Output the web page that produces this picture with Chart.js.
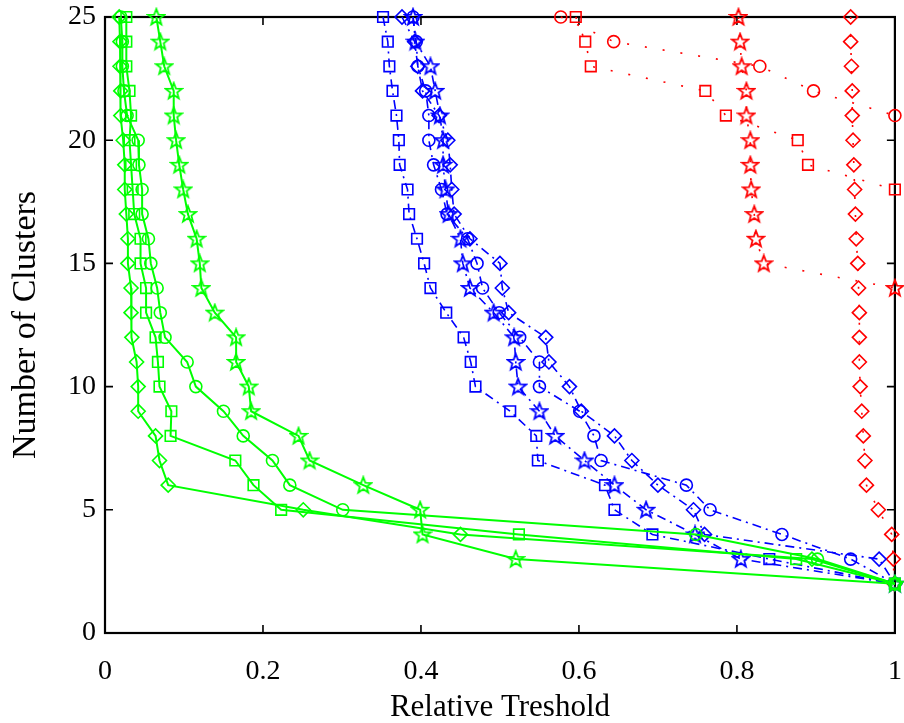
<!DOCTYPE html>
<html>
<head>
<meta charset="utf-8">
<script src="https://cdn.jsdelivr.net/npm/chart.js@4.4.1/dist/chart.umd.min.js"></script>
<style>
  html, body { margin: 0; padding: 0; background: #fff; }
  #wrap { width: 904px; height: 723px; }
</style>
</head>
<body>
<div id="wrap"><canvas id="clusterChart" width="904" height="723"></canvas></div>
<script>
// number of clusters, top to bottom (25 .. 2)
const clusterLevels = [25, 24, 23, 22, 21, 20, 19, 18, 17, 16, 15, 14, 13, 12, 11, 10, 9, 8, 7, 6, 5, 4, 3, 2];

// relative threshold, one value per cluster level
const greenDiamond = [0.018, 0.019, 0.019, 0.020, 0.020, 0.023, 0.025, 0.025, 0.027, 0.029, 0.029, 0.033, 0.033, 0.034, 0.040, 0.042, 0.042, 0.064, 0.069, 0.080, 0.251, 0.450, 0.895, 1.0];
const greenSquare  = [0.027, 0.027, 0.027, 0.031, 0.033, 0.031, 0.033, 0.035, 0.037, 0.045, 0.045, 0.052, 0.052, 0.064, 0.067, 0.069, 0.084, 0.083, 0.165, 0.188, 0.223, 0.524, 0.875, 1.0];
const greenCircle  = [0.020, 0.022, 0.022, 0.024, 0.028, 0.042, 0.043, 0.047, 0.047, 0.055, 0.058, 0.066, 0.070, 0.076, 0.104, 0.115, 0.150, 0.175, 0.212, 0.234, 0.301, 0.748, 0.902, 1.0];
const greenStar    = [0.065, 0.070, 0.075, 0.087, 0.087, 0.090, 0.094, 0.099, 0.105, 0.116, 0.120, 0.122, 0.139, 0.166, 0.166, 0.182, 0.185, 0.245, 0.259, 0.327, 0.399, 0.402, 0.520, 1.0];

const blueSquare   = [0.352, 0.358, 0.360, 0.364, 0.369, 0.372, 0.373, 0.383, 0.385, 0.395, 0.404, 0.412, 0.432, 0.454, 0.463, 0.469, 0.513, 0.546, 0.548, 0.633, 0.645, 0.693, 0.841, 1.0];
const blueStar     = [0.390, 0.393, 0.412, 0.418, 0.424, 0.428, 0.428, 0.431, 0.435, 0.450, 0.453, 0.462, 0.492, 0.518, 0.520, 0.523, 0.550, 0.570, 0.607, 0.645, 0.685, 0.747, 0.805, 1.0];
const blueCircle   = [0.390, 0.394, 0.396, 0.406, 0.410, 0.410, 0.416, 0.426, 0.433, 0.459, 0.471, 0.478, 0.499, 0.525, 0.550, 0.550, 0.601, 0.619, 0.628, 0.736, 0.766, 0.857, 0.944, 1.0];
const blueDiamond  = [0.376, 0.392, 0.396, 0.402, 0.423, 0.434, 0.437, 0.439, 0.442, 0.462, 0.500, 0.503, 0.511, 0.558, 0.562, 0.588, 0.603, 0.645, 0.667, 0.700, 0.745, 0.759, 0.980, 1.0];

// red curves stop early (25 .. 21, 25 .. 18, 25 .. 14, 25 .. 3)
const redCircle    = [0.577, 0.644, 0.829, 0.897, 1.0];
const redSquare    = [0.596, 0.608, 0.615, 0.760, 0.786, 0.877, 0.890, 1.0];
const redStar      = [0.802, 0.804, 0.806, 0.812, 0.812, 0.817, 0.817, 0.818, 0.822, 0.824, 0.834, 1.0];
const redDiamond   = [0.944, 0.944, 0.945, 0.946, 0.946, 0.947, 0.948, 0.949, 0.950, 0.951, 0.953, 0.954, 0.955, 0.955, 0.955, 0.956, 0.958, 0.960, 0.962, 0.964, 0.979, 0.996, 0.998, 0.999];

const xTicks = [0, 0.2, 0.4, 0.6, 0.8, 1];
const yTicks = [0, 5, 10, 15, 20, 25];

const GREEN = "#00ff00";
const BLUE = "#0000ff";
const RED = "#ff0000";

// matlab-like pentagram outline as an image point style
function makeStar(color) {
    const c = document.createElement("canvas");
    c.width = 20;
    c.height = 20;
    const g = c.getContext("2d");
    g.strokeStyle = color;
    g.lineWidth = 1.8;
    g.beginPath();
    for (let i = 0; i < 10; i++) {
        const r = i % 2 === 0 ? 8.5 : 3.6;
        const a = -Math.PI / 2 + i * Math.PI / 5;
        const px = 10 + r * Math.cos(a);
        const py = 10.5 + r * Math.sin(a);
        if (i === 0) g.moveTo(px, py); else g.lineTo(px, py);
    }
    g.closePath();
    g.stroke();
    return c;
}

function toPoints(values) {
    return values.map((v, i) => ({ x: v, y: clusterLevels[i] }));
}

function series(values, color, marker, dash, width) {
    let style = marker;
    let radius = 6;
    if (marker === "star") style = makeStar(color);
    if (marker === "rect") radius = 7.5;
    if (marker === "rectRot") radius = 7;
    return {
        data: toPoints(values),
        borderColor: color,
        backgroundColor: "rgba(0,0,0,0)",
        pointBorderColor: color,
        pointBackgroundColor: "rgba(0,0,0,0)",
        pointStyle: style,
        pointRadius: radius,
        pointBorderWidth: 1.6,
        borderWidth: width,
        borderDash: dash,
        tension: 0,
        fill: false,
        clip: false
    };
}

const dashDot = [9, 5, 2, 5];
const dotted = [2, 16];

const datasets = [
    series(greenDiamond, GREEN, "rectRot", [], 2),
    series(greenSquare, GREEN, "rect", [], 2),
    series(greenCircle, GREEN, "circle", [], 2),
    series(greenStar, GREEN, "star", [], 2),
    series(blueSquare, BLUE, "rect", dashDot, 1.6),
    series(blueStar, BLUE, "star", dashDot, 1.6),
    series(blueCircle, BLUE, "circle", dashDot, 1.6),
    series(blueDiamond, BLUE, "rectRot", dashDot, 1.6),
    series(redCircle, RED, "circle", dotted, 1.6),
    series(redSquare, RED, "rect", dotted, 1.6),
    series(redStar, RED, "star", dotted, 1.6),
    series(redDiamond, RED, "rectRot", dotted, 1.6)
];

// box around the axes with inward ticks on all four sides
const framePlugin = {
    id: "frame",
    beforeDatasetsDraw(chart) {
        const { ctx, chartArea: a, scales } = chart;
        ctx.save();
        ctx.strokeStyle = "#000";
        ctx.lineWidth = 2.2;
        ctx.strokeRect(a.left, a.top, a.right - a.left, a.bottom - a.top);
        ctx.lineWidth = 1.6;
        const len = 8;
        ctx.beginPath();
        xTicks.forEach((v) => {
            const px = scales.x.getPixelForValue(v);
            ctx.moveTo(px, a.bottom); ctx.lineTo(px, a.bottom - len);
            ctx.moveTo(px, a.top); ctx.lineTo(px, a.top + len);
        });
        yTicks.forEach((v) => {
            const py = scales.y.getPixelForValue(v);
            ctx.moveTo(a.left, py); ctx.lineTo(a.left + len, py);
            ctx.moveTo(a.right, py); ctx.lineTo(a.right - len, py);
        });
        ctx.stroke();
        ctx.restore();
    }
};

const font = "'Liberation Serif', 'Times New Roman', serif";
// invisible outward tick marks only used to push the labels away from the axes
const hiddenGrid = (len) => ({
    display: true,
    drawOnChartArea: false,
    drawTicks: true,
    tickLength: len,
    color: "rgba(0,0,0,0)"
});

new Chart(document.getElementById("clusterChart").getContext("2d"), {
    type: "line",
    data: { datasets },
    options: {
        responsive: false,
        animation: false,
        layout: { padding: { left: 0, right: 8, top: 17, bottom: 0 } },
        plugins: { legend: { display: false }, tooltip: { enabled: false } },
        scales: {
            x: {
                type: "linear",
                min: 0,
                max: 1,
                afterBuildTicks: (scale) => { scale.ticks = xTicks.map((v) => ({ value: v })); },
                afterFit: (scale) => { scale.height = 90; },
                grid: hiddenGrid(22),
                border: { display: false },
                ticks: {
                    color: "#000",
                    padding: 0,
                    maxRotation: 0,
                    font: { family: font, size: 28 },
                    callback: (v) => String(v)
                },
                title: {
                    display: true,
                    text: "Relative Treshold",
                    color: "#000",
                    padding: { top: 0, bottom: -3 },
                    font: { family: font, size: 31 }
                }
            },
            y: {
                type: "linear",
                min: 0,
                max: 25,
                afterBuildTicks: (scale) => { scale.ticks = yTicks.map((v) => ({ value: v })); },
                afterFit: (scale) => { scale.width = 105; },
                grid: hiddenGrid(9),
                border: { display: false },
                ticks: {
                    color: "#000",
                    padding: 0,
                    font: { family: font, size: 28 }
                },
                title: {
                    display: true,
                    text: "Number of Clusters",
                    color: "#000",
                    padding: { top: 6, bottom: 0 },
                    font: { family: font, size: 34 }
                }
            }
        }
    },
    plugins: [framePlugin]
});
</script>
</body>
</html>
